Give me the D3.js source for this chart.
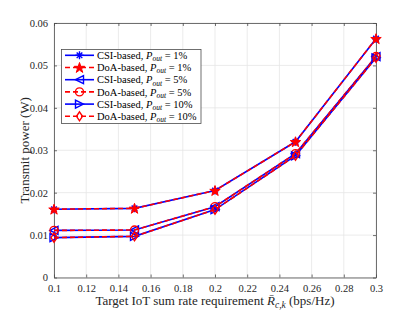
<!DOCTYPE html>
<html>
<head>
<meta charset="utf-8">
<script src="https://cdn.jsdelivr.net/npm/d3@7"></script>
<style>
  body { margin: 0; background: #fff; }
  svg { font-family: "Liberation Serif", "DejaVu Serif", serif; }
</style>
</head>
<body>
<div class="chart"></div>
<script>
const rates = [0.1, 0.15, 0.2, 0.25, 0.3];
const csi1 = [0.0161, 0.0163, 0.0205, 0.0320, 0.0563];
const doa1 = [0.0161, 0.0163, 0.0205, 0.0320, 0.0563];
const csi5 = [0.0111, 0.0112, 0.0167, 0.0292, 0.0521];
const doa5 = [0.0111, 0.0112, 0.0167, 0.0292, 0.0521];
const csi10 = [0.0094, 0.0097, 0.0160, 0.0287, 0.0518];
const doa10 = [0.0094, 0.0097, 0.0160, 0.0287, 0.0518];
const xTicks = [0.1, 0.12, 0.14, 0.16, 0.18, 0.2, 0.22, 0.24, 0.26, 0.28, 0.3];
const yTicks = [0, 0.01, 0.02, 0.03, 0.04, 0.05, 0.06];

const series = [
  {name: "CSI-based", pout: "1%", values: csi1, color: "#0000ff", dash: null, marker: "asterisk"},
  {name: "DoA-based", pout: "1%", values: doa1, color: "#ff0000", dash: "5,3", marker: "star"},
  {name: "CSI-based", pout: "5%", values: csi5, color: "#0000ff", dash: null, marker: "triLeft"},
  {name: "DoA-based", pout: "5%", values: doa5, color: "#ff0000", dash: "5,3", marker: "circle"},
  {name: "CSI-based", pout: "10%", values: csi10, color: "#0000ff", dash: null, marker: "triRight"},
  {name: "DoA-based", pout: "10%", values: doa10, color: "#ff0000", dash: "5,3", marker: "diamond"}
];

const width = 415, height = 312;
const margin = {top: 23, right: 39, bottom: 34.5, left: 54};

const svg = d3.select(".chart").append("svg")
  .attr("width", width).attr("height", height);

const x = d3.scaleLinear().domain([0.1, 0.3]).range([margin.left, width - margin.right]);
const y = d3.scaleLinear().domain([0, 0.06]).range([height - margin.bottom, margin.top]);

// grid
svg.append("g").selectAll("line").data(xTicks).enter().append("line")
  .attr("x1", d => x(d)).attr("x2", d => x(d))
  .attr("y1", y(0)).attr("y2", y(0.06))
  .attr("stroke", "#e6e6e6").attr("stroke-width", 0.8);
svg.append("g").selectAll("line").data(yTicks).enter().append("line")
  .attr("x1", x(0.1)).attr("x2", x(0.3))
  .attr("y1", d => y(d)).attr("y2", d => y(d))
  .attr("stroke", "#e6e6e6").attr("stroke-width", 0.8);

// axes
const axisColor = "#4d4d4d";
const xAxis = d3.axisBottom(x).tickValues(xTicks).tickSizeInner(-3).tickSizeOuter(0).tickPadding(7)
  .tickFormat(d3.format("~g"));
const yAxis = d3.axisLeft(y).tickValues(yTicks).tickSizeInner(-3).tickSizeOuter(0).tickPadding(6)
  .tickFormat(d3.format("~g"));
const xTop = d3.axisTop(x).tickValues(xTicks).tickSizeInner(-3).tickSizeOuter(0).tickFormat("");
const yRight = d3.axisRight(y).tickValues(yTicks).tickSizeInner(-3).tickSizeOuter(0).tickFormat("");

function styleAxis(g) {
  g.select(".domain").attr("stroke", axisColor).attr("stroke-width", 0.8);
  g.selectAll(".tick line").attr("stroke", axisColor).attr("stroke-width", 0.8);
  g.selectAll(".tick text").attr("fill", "#262626").style("font-size", "10.5px")
    .style("font-family", "'Liberation Serif', serif");
}
svg.append("g").attr("transform", `translate(0,${y(0)})`).call(xAxis).call(styleAxis);
svg.append("g").attr("transform", `translate(${x(0.1)},0)`).call(yAxis).call(styleAxis);
svg.append("g").attr("transform", `translate(0,${y(0.06)})`).call(xTop).call(styleAxis);
svg.append("g").attr("transform", `translate(${x(0.3)},0)`).call(yRight).call(styleAxis);

// markers
function drawMarker(g, type, cx, cy, color) {
  const s = 4;
  if (type === "asterisk") {
    const p = [];
    [0, 45, 90, 135].forEach(a => {
      const r = a * Math.PI / 180;
      p.push(`M${cx - s * Math.cos(r)},${cy - s * Math.sin(r)}L${cx + s * Math.cos(r)},${cy + s * Math.sin(r)}`);
    });
    g.append("path").attr("d", p.join("")).attr("stroke", color).attr("stroke-width", 1.4).attr("fill", "none");
  } else if (type === "star") {
    g.append("path").attr("d", d3.symbol().type(d3.symbolStar).size(34)())
      .attr("transform", `translate(${cx},${cy + 0.5})`)
      .attr("fill", color).attr("stroke", color).attr("stroke-width", 1);
  } else if (type === "circle") {
    g.append("circle").attr("cx", cx).attr("cy", cy).attr("r", s)
      .attr("fill", "none").attr("stroke", color).attr("stroke-width", 1.4);
  } else if (type === "diamond") {
    g.append("path").attr("d", `M${cx},${cy - s - 0.5}L${cx + s * 0.75},${cy}L${cx},${cy + s + 0.5}L${cx - s * 0.75},${cy}Z`)
      .attr("fill", "none").attr("stroke", color).attr("stroke-width", 1.4);
  } else if (type === "triLeft") {
    g.append("path").attr("d", `M${cx - s},${cy}L${cx + s},${cy - s}L${cx + s},${cy + s}Z`)
      .attr("fill", "none").attr("stroke", color).attr("stroke-width", 1.4);
  } else if (type === "triRight") {
    g.append("path").attr("d", `M${cx + s},${cy}L${cx - s},${cy - s}L${cx - s},${cy + s}Z`)
      .attr("fill", "none").attr("stroke", color).attr("stroke-width", 1.4);
  }
}

const line = d3.line().x((d, i) => x(rates[i])).y(d => y(d));

series.forEach(s => {
  const g = svg.append("g");
  g.append("path").datum(s.values).attr("d", line)
    .attr("fill", "none").attr("stroke", s.color).attr("stroke-width", 1.6)
    .attr("stroke-dasharray", s.dash);
  s.values.forEach((v, i) => drawMarker(g, s.marker, x(rates[i]), y(v), s.color));
});

// legend
const lg = svg.append("g");
lg.append("rect").attr("x", 61.5).attr("y", 49.5).attr("width", 139.5).attr("height", 74)
  .attr("fill", "#fff").attr("stroke", axisColor).attr("stroke-width", 0.8);
series.forEach((s, i) => {
  const ly = 55.3 + i * 12.2;
  lg.append("line").attr("x1", 65).attr("x2", 94).attr("y1", ly).attr("y2", ly)
    .attr("stroke", s.color).attr("stroke-width", 1.6).attr("stroke-dasharray", s.dash ? "5,3" : null);
  drawMarker(lg, s.marker, 79.5, ly, s.color);
  const t = lg.append("text").attr("x", 97).attr("y", ly + 3.6)
    .style("font-size", "10.5px").attr("fill", "#000");
  t.append("tspan").text(s.name + ", ");
  t.append("tspan").style("font-style", "italic").text("P");
  t.append("tspan").style("font-style", "italic").style("font-size", "7.5px").attr("dy", 2.2).text("out");
  t.append("tspan").attr("dy", -2.2).text(" = " + s.pout);
});

// axis labels
svg.append("text").attr("transform", `translate(24,${(y(0) + y(0.06)) / 2}) rotate(-90)`)
  .attr("text-anchor", "middle").attr("dy", "0.35em").style("font-size", "13px").attr("fill", "#262626")
  .text("Transmit power (W)");

const xl = svg.append("text").attr("x", 215).attr("y", 305)
  .attr("text-anchor", "middle").style("font-size", "13px").attr("fill", "#262626");
xl.append("tspan").text("Target IoT sum rate requirement ");
xl.append("tspan").style("font-style", "italic").text("R\u0304");
xl.append("tspan").style("font-style", "italic").style("font-size", "9.5px").attr("dy", 2.5).text("c,k");
xl.append("tspan").attr("dy", -2.5).text(" (bps/Hz)");
</script>
</body>
</html>
